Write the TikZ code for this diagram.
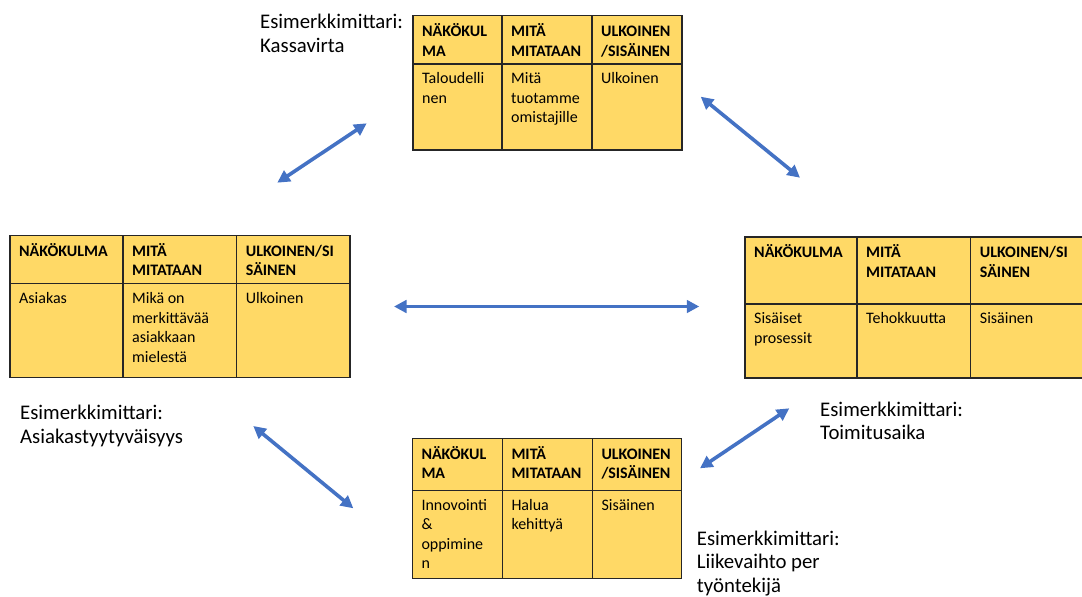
\documentclass[tikz,border=0pt]{standalone}
\usepackage{fontspec}
\setmainfont{Carlito}
\usetikzlibrary{arrows.meta}

\definecolor{cellfill}{HTML}{FFD966}
\definecolor{cellline}{HTML}{262626}
\definecolor{linkblue}{HTML}{4472C4}

\tikzset{
  cellrule/.style={draw=cellline, line width=1.3pt},
  headtext/.style={anchor=north west, inner sep=0pt, align=left,
    font=\fontsize{16}{19.5}\selectfont\bfseries},
  bodytext/.style={anchor=north west, inner sep=0pt, align=left,
    font=\fontsize{16}{19.5}\selectfont},
  notetext/.style={anchor=north west, inner sep=0pt, align=left,
    font=\fontsize{20.8}{23.5}\selectfont},
  link/.style={draw=linkblue, line width=3.6pt,
    {Triangle[length=12.5pt,width=12.5pt]}-{Triangle[length=12.5pt,width=12.5pt]}},
}

% #1..#4: column edges, #5: top, #6: header/body rule, #7: bottom
\newcommand{\perspectivegrid}[7]{%
  \fill[cellfill] (#1,#5) rectangle (#4,#7);
  \draw[cellrule] (#1,#5) rectangle (#4,#7)
    (#1,#6) -- (#4,#6)
    (#2,#5) -- (#2,#7)
    (#3,#5) -- (#3,#7);
}

\begin{document}
\begin{tikzpicture}[x=1pt, y=-1pt]
\useasboundingbox (0,0) rectangle (1082,597);

% ---- Talous (top) ----
\perspectivegrid{413}{502}{592}{682}{15.7}{64}{150}
\node[headtext] (t-h1) at (422,22.7) {\strut NÄKÖKUL\\MA};
\node[headtext] (t-h2) at (511,22.7) {\strut MITÄ\\MITATAAN};
\node[headtext] (t-h3) at (601,22.7) {\strut ULKOINEN\\/SISÄINEN};
\node[bodytext] (t-b1) at (422,70) {\strut Taloudelli\\nen};
\node[bodytext] (t-b2) at (511,70) {\strut Mitä\\tuotamme\\omistajille};
\node[bodytext] (t-b3) at (601,70) {\strut Ulkoinen};
\node[notetext] (t-note) at (260,11.9) {\strut Esimerkkimittari:\\Kassavirta};

% ---- Asiakas (left) ----
\perspectivegrid{10}{123}{236.7}{350}{235.7}{283.7}{377.7}
\node[headtext] (l-h1) at (19,242.3) {\strut NÄKÖKULMA};
\node[headtext] (l-h2) at (132,242.3) {\strut MITÄ\\MITATAAN};
\node[headtext] (l-h3) at (245.7,242.3) {\strut ULKOINEN/SI\\SÄINEN};
\node[bodytext] (l-b1) at (19,290) {\strut Asiakas};
\node[bodytext] (l-b2) at (132,290) {\strut Mikä on\\merkittävää\\asiakkaan\\mielestä};
\node[bodytext] (l-b3) at (245.7,290) {\strut Ulkoinen};
\node[notetext] (l-note) at (20,402.9) {\strut Esimerkkimittari:\\Asiakastyytyväisyys};

% ---- Sisäiset prosessit (right) ----
\perspectivegrid{745}{857}{970.7}{1084}{237}{304}{378}
\node[headtext] (r-h1) at (754,244) {\strut NÄKÖKULMA};
\node[headtext] (r-h2) at (866,244) {\strut MITÄ\\MITATAAN};
\node[headtext] (r-h3) at (979.7,244) {\strut ULKOINEN/SI\\SÄINEN};
\node[bodytext] (r-b1) at (754,309.7) {\strut Sisäiset\\prosessit};
\node[bodytext] (r-b2) at (866,309.7) {\strut Tehokkuutta};
\node[bodytext] (r-b3) at (979.7,309.7) {\strut Sisäinen};
\node[notetext] (r-note) at (820,399.5) {\strut Esimerkkimittari:\\Toimitusaika};

% ---- Innovointi & oppiminen (bottom) ----
\perspectivegrid{412.3}{502.3}{592.3}{681.7}{438.3}{490.7}{578.3}
\node[headtext] (b-h1) at (421.3,445.5) {\strut NÄKÖKUL\\MA};
\node[headtext] (b-h2) at (511.3,445.5) {\strut MITÄ\\MITATAAN};
\node[headtext] (b-h3) at (601.3,445.5) {\strut ULKOINEN\\/SISÄINEN};
\node[bodytext] (b-b1) at (421.3,496.5) {\strut Innovointi\\\&\\oppimine\\n};
\node[bodytext] (b-b2) at (511.3,496.5) {\strut Halua\\kehittyä};
\node[bodytext] (b-b3) at (601.3,496.5) {\strut Sisäinen};
\node[notetext] (b-note) at (696.7,528.5) {\strut Esimerkkimittari:\\Liikevaihto per\\työntekijä};

% ---- links between perspectives ----
\coordinate (a1) at (277.3,182.7);
\coordinate (a2) at (366.7,123.3);
\coordinate (b1) at (700.7,96.7);
\coordinate (b2) at (800,177.7);
\coordinate (c1) at (394,306.5);
\coordinate (c2) at (699.3,306.5);
\coordinate (d1) at (253.3,426);
\coordinate (d2) at (353.3,508.3);
\coordinate (e1) at (700,468.3);
\coordinate (e2) at (789.3,408.3);

\draw[link] (a1) -- (a2);
\draw[link] (b1) -- (b2);
\draw[link] (c1) -- (c2);
\draw[link] (d1) -- (d2);
\draw[link] (e1) -- (e2);
\end{tikzpicture}
\end{document}
